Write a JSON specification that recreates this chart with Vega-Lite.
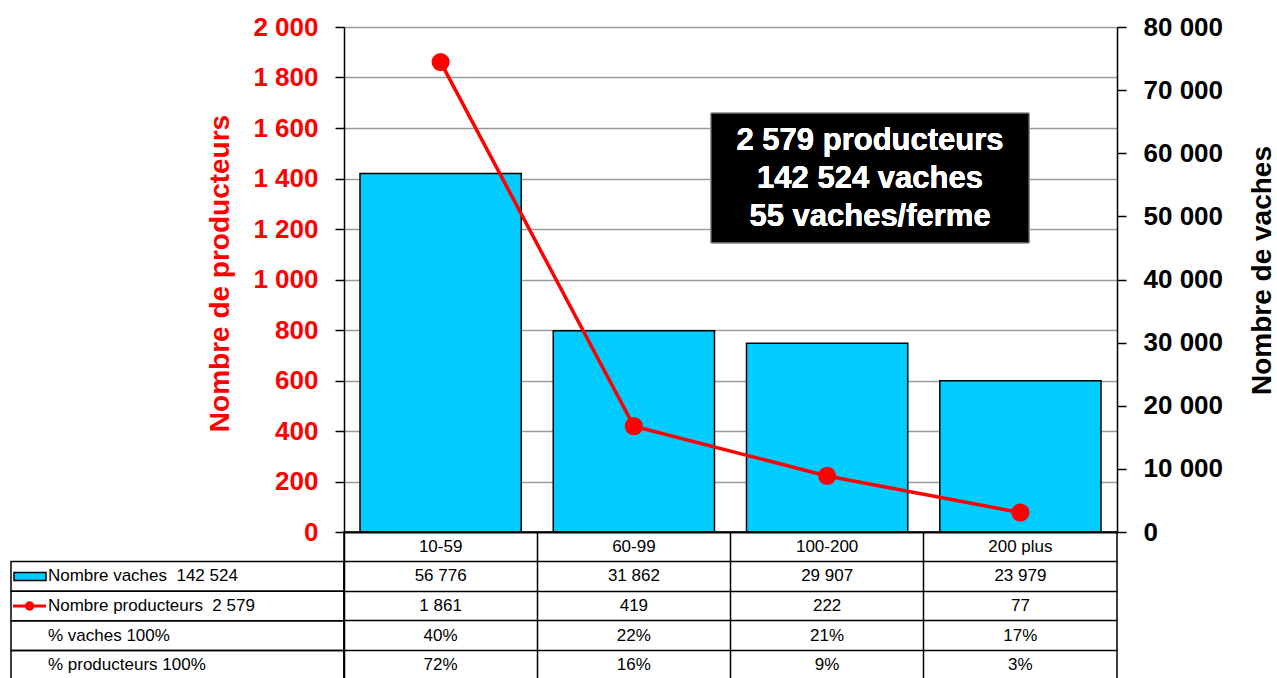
{
  "$schema": "https://vega.github.io/schema/vega-lite/v6.json",
  "padding": {"left": 10, "top": 14, "right": 0, "bottom": 0},
  "autosize": {"type": "pad"},
  "background": "white",
  "config": {
    "locale": {"number": {"decimal": ",", "thousands": " ", "grouping": [3], "currency": ["", " €"]}},
    "view": {"stroke": null},
    "font": "Liberation Sans"
  },
  "datasets": {
    "main": [
      {"cat": "10-59", "vaches": 56776, "producteurs": 1861, "pct_vaches": 0.40, "pct_producteurs": 0.72},
      {"cat": "60-99", "vaches": 31862, "producteurs": 419, "pct_vaches": 0.22, "pct_producteurs": 0.16},
      {"cat": "100-200", "vaches": 29907, "producteurs": 222, "pct_vaches": 0.21, "pct_producteurs": 0.09},
      {"cat": "200 plus", "vaches": 23979, "producteurs": 77, "pct_vaches": 0.17, "pct_producteurs": 0.03}
    ],
    "labels": [
      {"row": "vaches", "label": "Nombre vaches\u00a0 142 524", "sym": "bar"},
      {"row": "producteurs", "label": "Nombre producteurs\u00a0 2 579", "sym": "line"},
      {"row": "pv", "label": "% vaches 100%", "sym": "none"},
      {"row": "pp", "label": "% producteurs 100%", "sym": "none"}
    ]
  },
  "columns": 2,
  "spacing": 0,
  "bounds": "flush",
  "concat": [
    {
      "width": 333,
      "height": 505,
      "data": {"values": [{}]},
      "mark": {"type": "point", "opacity": 0},
      "encoding": {}
    },
    {
      "width": 773,
      "height": 505,
      "data": {"name": "main"},
      "layer": [
        {
          "mark": {"type": "bar", "fill": "#00CCFF", "stroke": "black", "strokeWidth": 1.5},
          "encoding": {
            "x": {"field": "cat", "type": "nominal", "sort": null,
                  "scale": {"type": "band", "paddingInner": 0.1656, "paddingOuter": 0.0828},
                  "axis": {"title": null, "labels": false, "ticks": false, "domainColor": "black", "domainWidth": 1.5}},
            "y": {"field": "vaches", "type": "quantitative",
                  "scale": {"domain": [0, 80000], "nice": false},
                  "axis": {"orient": "right", "title": "Nombre de vaches", "titleAngle": 270, "titleBaseline": "top",
                           "titleY": 243,
                           "values": [0, 10000, 20000, 30000, 40000, 50000, 60000, 70000, 80000],
                           "format": ",d", "grid": false,
                           "domainColor": "black", "domainWidth": 1.5,
                           "tickColor": "black", "tickSize": 9, "tickWidth": 1.5,
                           "labelFont": "Liberation Sans", "labelFontSize": 26, "labelFontWeight": "bold",
                           "labelColor": "black", "labelPadding": 17,
                           "titleFont": "Liberation Sans", "titleFontSize": 28, "titleFontWeight": "bold",
                           "titleColor": "black", "titlePadding": 26}}
          }
        },
        {
          "mark": {"type": "line", "color": "#FF0000", "strokeWidth": 3.5,
                   "point": {"filled": true, "size": 330, "fill": "#FF0000", "color": "#FF0000"}},
          "encoding": {
            "x": {"field": "cat", "type": "nominal", "sort": null,
                  "scale": {"type": "band", "paddingInner": 0.1656, "paddingOuter": 0.0828}, "axis": null},
            "y": {"field": "producteurs", "type": "quantitative",
                  "scale": {"domain": [0, 2000], "nice": false},
                  "axis": {"orient": "left", "title": "Nombre de producteurs", "titleY": 246,
                           "values": [0, 200, 400, 600, 800, 1000, 1200, 1400, 1600, 1800, 2000],
                           "format": ",d", "grid": true, "gridColor": "#9a9a9a", "gridWidth": 1.5,
                           "domainColor": "black", "domainWidth": 1.5,
                           "tickColor": "black", "tickSize": 9, "tickWidth": 1.5,
                           "labelFont": "Liberation Sans", "labelFontSize": 26, "labelFontWeight": "bold",
                           "labelColor": "#FF0000", "labelPadding": 17,
                           "titleFont": "Liberation Sans", "titleFontSize": 28, "titleFontWeight": "bold",
                           "titleColor": "#FF0000", "titlePadding": 18}}
          }
        },
        {
          "mark": {"type": "rect", "fill": "black", "stroke": "#999999", "strokeWidth": 1},
          "encoding": {
            "x": {"datum": 1.899, "type": "quantitative", "scale": {"domain": [0, 4], "nice": false}, "axis": null},
            "x2": {"datum": 3.545},
            "y": {"datum": 1659, "type": "quantitative", "scale": {"domain": [0, 2000], "nice": false}, "axis": null},
            "y2": {"datum": 1145}
          }
        },
        {
          "mark": {"type": "text", "color": "white", "font": "Liberation Sans", "fontSize": 31, "fontWeight": "bold",
                   "align": "center", "baseline": "middle", "lineHeight": 38,
                   "text": ["2 579 producteurs", "142 524 vaches", "55 vaches/ferme"]},
          "encoding": {
            "x": {"datum": 2.722, "type": "quantitative", "scale": {"domain": [0, 4], "nice": false}, "axis": null},
            "y": {"datum": 1548, "type": "quantitative", "scale": {"domain": [0, 2000], "nice": false}, "axis": null}
          }
        }
      ],
      "resolve": {"scale": {"y": "independent", "x": "independent"}}
    },
    {
      "width": 333,
      "height": 148,
      "data": {"name": "labels"},
      "layer": [
        {
          "mark": {"type": "rect", "fill": "transparent", "stroke": "black", "strokeWidth": 1.5},
          "encoding": {
            "y": {"field": "row", "type": "nominal",
                  "scale": {"type": "band", "domain": ["header", "vaches", "producteurs", "pv", "pp"], "paddingInner": 0, "paddingOuter": 0},
                  "axis": null}
          }
        },
        {
          "transform": [{"filter": "datum.sym === 'bar'"}],
          "mark": {"type": "bar", "fill": "#00CCFF", "stroke": "black", "strokeWidth": 1.5, "height": 8},
          "encoding": {
            "x": {"datum": 0.009, "type": "quantitative", "scale": {"domain": [0, 1], "nice": false}, "axis": null},
            "x2": {"datum": 0.105},
            "y": {"field": "row", "type": "nominal", "axis": null}
          }
        },
        {
          "transform": [{"filter": "datum.sym === 'line'"}],
          "mark": {"type": "rule", "color": "#FF0000", "strokeWidth": 3},
          "encoding": {
            "x": {"datum": 0.006, "type": "quantitative", "scale": {"domain": [0, 1], "nice": false}, "axis": null},
            "x2": {"datum": 0.105},
            "y": {"field": "row", "type": "nominal", "axis": null}
          }
        },
        {
          "transform": [{"filter": "datum.sym === 'line'"}],
          "mark": {"type": "point", "filled": true, "color": "#FF0000", "size": 90, "opacity": 1},
          "encoding": {
            "x": {"datum": 0.056, "type": "quantitative", "scale": {"domain": [0, 1], "nice": false}, "axis": null},
            "y": {"field": "row", "type": "nominal", "axis": null}
          }
        },
        {
          "mark": {"type": "text", "align": "left", "baseline": "middle", "font": "Liberation Sans", "fontSize": 17, "color": "black"},
          "encoding": {
            "x": {"datum": 0.111, "type": "quantitative", "scale": {"domain": [0, 1], "nice": false}, "axis": null},
            "y": {"field": "row", "type": "nominal", "axis": null},
            "text": {"field": "label"}
          }
        }
      ]
    },
    {
      "width": 773,
      "height": 148,
      "data": {"name": "main"},
      "view": {"stroke": "black", "strokeWidth": 1.5},
      "encoding": {
        "x": {"field": "cat", "type": "nominal", "sort": null,
              "scale": {"type": "band", "paddingInner": 0, "paddingOuter": 0},
              "axis": {"orient": "top", "grid": true, "gridColor": "black", "gridWidth": 1.5, "bandPosition": 0,
                       "labels": false, "ticks": false, "domain": false, "title": null}}
      },
      "layer": [
        {
          "mark": {"type": "text", "baseline": "middle", "font": "Liberation Sans", "fontSize": 17, "color": "black"},
          "encoding": {
            "y": {"datum": "header", "type": "nominal",
                  "scale": {"type": "band", "domain": ["header", "vaches", "producteurs", "pv", "pp"], "paddingInner": 0, "paddingOuter": 0},
                  "axis": {"grid": true, "gridColor": "black", "gridWidth": 1.5, "bandPosition": 0,
                           "labels": false, "ticks": false, "domain": false, "title": null}},
            "text": {"field": "cat"}
          }
        },
        {
          "mark": {"type": "text", "baseline": "middle", "font": "Liberation Sans", "fontSize": 17, "color": "black"},
          "encoding": {
            "y": {"datum": "vaches", "type": "nominal"},
            "text": {"field": "vaches", "type": "quantitative", "format": ",d"}
          }
        },
        {
          "mark": {"type": "text", "baseline": "middle", "font": "Liberation Sans", "fontSize": 17, "color": "black"},
          "encoding": {
            "y": {"datum": "producteurs", "type": "nominal"},
            "text": {"field": "producteurs", "type": "quantitative", "format": ",d"}
          }
        },
        {
          "mark": {"type": "text", "baseline": "middle", "font": "Liberation Sans", "fontSize": 17, "color": "black"},
          "encoding": {
            "y": {"datum": "pv", "type": "nominal"},
            "text": {"field": "pct_vaches", "type": "quantitative", "format": ".0%"}
          }
        },
        {
          "mark": {"type": "text", "baseline": "middle", "font": "Liberation Sans", "fontSize": 17, "color": "black"},
          "encoding": {
            "y": {"datum": "pp", "type": "nominal"},
            "text": {"field": "pct_producteurs", "type": "quantitative", "format": ".0%"}
          }
        }
      ]
    }
  ]
}
